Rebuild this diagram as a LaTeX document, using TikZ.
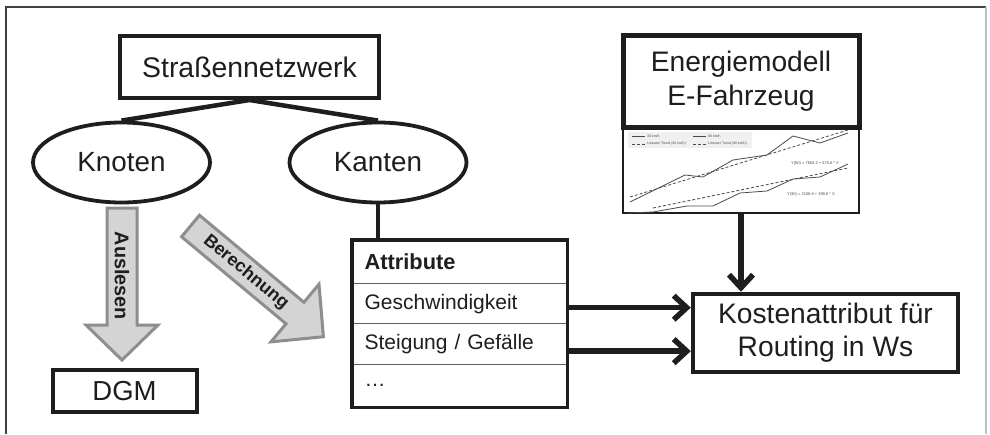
\documentclass[tikz,border=0pt]{standalone}
\usepackage{fontspec}
\setmainfont{Liberation Sans}
\usetikzlibrary{arrows.meta,shapes.geometric}
\definecolor{ink}{HTML}{1E1E1E}
\definecolor{arrfill}{HTML}{D4D4D4}
\definecolor{arrline}{HTML}{8E8E8E}
\begin{document}
\begin{tikzpicture}[x=1pt,y=-1pt,
  box/.style={draw=ink,line width=4pt,text=ink,inner sep=0pt,align=center},
  oval/.style={draw=ink,ellipse,line width=3.8pt,text=ink,inner sep=0pt,minimum width=177pt,minimum height=80pt,font=\fontsize{27.8}{32}\selectfont},
  link/.style={draw=ink,line width=4.5pt},
  row/.style={draw=ink!70,line width=1.3pt,anchor=north west,minimum width=214pt,text width=190pt,inner xsep=12pt,align=left,text=ink,font=\fontsize{21}{24}\selectfont},
  bigarrow/.style={fill=arrfill,draw=arrline,line width=3pt,line join=miter},
  thick arrow/.style={draw=ink,line width=5.5pt,-{Straight Barb[length=13pt,width=24pt,line width=5.5pt]}},
  chartline/.style={draw=ink!80,line width=0.8pt},
  chartdash/.style={draw=ink!80,line width=0.8pt,dash pattern=on 3pt off 2pt},
  tiny/.style={font=\fontsize{3.5}{4}\selectfont,text=ink!80,inner sep=0pt}
]
\useasboundingbox (0,0) rectangle (990,434);
\fill[white] (0,0) rectangle (990,434);
% frame
\draw[draw=ink!85,line width=2pt] (6,434) -- (6,7) -- (986,7);
\draw[draw=black!25,line width=1.5pt] (986,7) -- (986,434);

% top tree
\node[box,minimum width=259pt,minimum height=62pt,font=\fontsize{28.4}{32}\selectfont] (net) at (249.5,67) {Straßennetzwerk};
\node[oval] (knot) at (121.5,162.5) {Knoten};
\node[oval] (kant) at (378,162.5) {Kanten};
\draw[link] (net.south) -- (knot.north);
\draw[link] (net.south) -- (kant.north);

% Auslesen arrow
\draw[bigarrow] (107,208) -- (137,208) -- (137,325) -- (158,325) -- (122,360) -- (86,325) -- (107,325) -- cycle;
\node[rotate=-90,font=\bfseries\fontsize{19.8}{22}\selectfont,text=ink] (ausl) at (122,276) {Auslesen};

% DGM
\node[box,minimum width=144pt,minimum height=42pt,font=\fontsize{27.5}{30}\selectfont] (dgm) at (124.5,391) {DGM};

% Berechnung arrow
\begin{scope}[shift={(190.5,226)},rotate=-39.8]
\draw[bigarrow] (0,-14) -- (136,-14) -- (136,-37.5) -- (173,0) -- (136,37.5) -- (136,14) -- (0,14) -- cycle;
\node[rotate=-39.8,font=\bfseries\fontsize{18}{20}\selectfont,text=ink] (ber) at (72,0) {Berechnung};
\end{scope}

% attribute table
\node[row,minimum height=43pt,font=\bfseries\fontsize{21.8}{24}\selectfont] (attr) at (352,240) {Attribute};
\node[row,minimum height=40pt] (gesch) at (352,283) {Geschwindigkeit};
\node[row,minimum height=41pt] (steig) at (352,323) {Steigung / Gefälle};
\node[row,minimum height=42pt] (dots) at (352,364) {\dots};
\draw[draw=ink,line width=3.2pt] (attr.north west) rectangle (dots.south east);
\draw[link] (kant.south) -- (kant.south |- attr.north);

% energy model
\node[box,line width=5pt,minimum width=236pt,minimum height=92pt,font=\fontsize{28.2}{34}\selectfont] (energ) at (741,81) {Energiemodell\\E-Fahrzeug};
\node[draw=ink,line width=2pt,minimum width=236pt,minimum height=86pt,inner sep=0pt] (chart) at (741,170) {};
% chart content
\fill[black!6] (628,132) rectangle (752,148);
\draw[chartline] (632,136) -- (645,136);
\draw[chartline] (693,136) -- (706,136);
\node[tiny,anchor=west] (l1) at (647,136) {30 km/h};
\node[tiny,anchor=west] (l2) at (708,136) {80 km/h};
\draw[chartdash] (632,144) -- (645,144);
\draw[chartdash] (693,144) -- (706,144);
\node[tiny,anchor=west] (l3) at (647,144) {Linearer Trend (30 km/h)};
\node[tiny,anchor=west] (l4) at (708,144) {Linearer Trend (80 km/h)};
\draw[chartline] (630,202) -- (685,175) -- (703,177) -- (733,160) -- (767,155) -- (793,136) -- (820,143) -- (848,133);
\draw[chartdash] (630,197) -- (848,130);
\draw[chartline] (627,213) -- (653,212) -- (687,206) -- (713,206) -- (740,193) -- (767,191) -- (793,179) -- (820,177) -- (848,164);
\draw[chartdash] (653,208) -- (848,168);
\node[tiny,font=\fontsize{4}{5}\selectfont] (eq1) at (815,163) {Y(80) = 7663.2 + 675.6 * X};
\node[tiny,font=\fontsize{4}{5}\selectfont] (eq2) at (811,194) {Y(30) = 2108.8 + 395.6 * X};

% cost box
\node[box,line width=4.5pt,minimum width=265pt,minimum height=78pt,font=\fontsize{28.2}{33}\selectfont] (kost) at (825.5,333) {Kostenattribut für\\Routing in Ws};

% arrows
\draw[thick arrow] (chart.south) -- (chart.south |- kost.north);
\draw[thick arrow] ([yshift=-4pt]gesch.east) -- ([yshift=-4pt]gesch.east -| kost.west);
\draw[thick arrow] ([yshift=-7pt]steig.east) -- ([yshift=-7pt]steig.east -| kost.west);
\end{tikzpicture}
\end{document}
